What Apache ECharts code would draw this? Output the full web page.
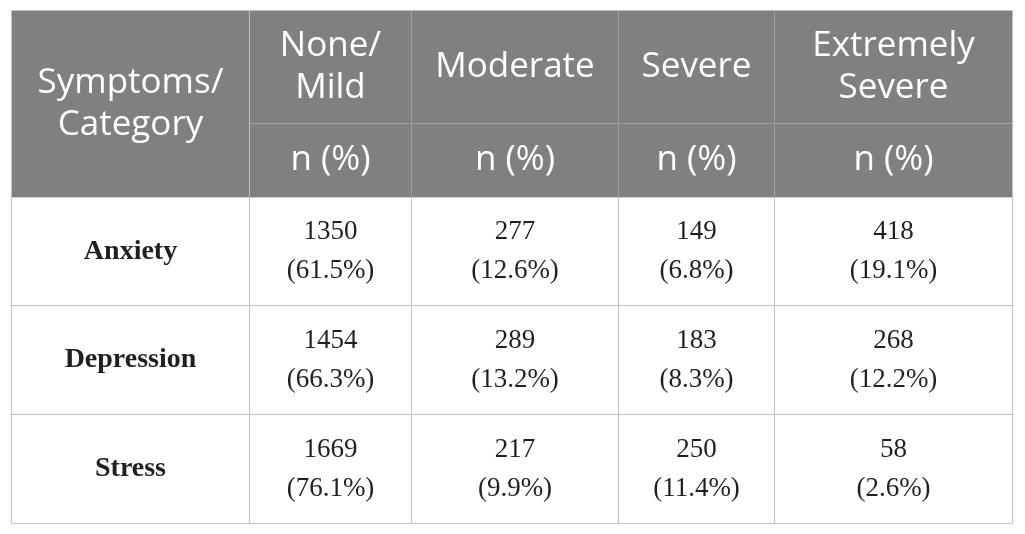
<!DOCTYPE html>
<html>
<head>
<meta charset="utf-8">
<title>Symptoms by category</title>
<script src="https://cdn.jsdelivr.net/npm/echarts@6.0.0/dist/echarts.min.js"></script>
<style>
    html, body { margin: 0; padding: 0; background: #fff; }
    #main { width: 1025px; height: 534px; }
</style>
</head>
<body>
<div id="main"></div>
<script>
// table content
var cornerTitle = 'Symptoms/\nCategory';
var levels = ['None/\nMild', 'Moderate', 'Severe', 'Extremely\nSevere'];
var subHeader = 'n (%)';
var symptoms = ['Anxiety', 'Depression', 'Stress'];
var counts = [
    [1350, 277, 149, 418],
    [1454, 289, 183, 268],
    [1669, 217, 250, 58]
];
var percents = [
    [61.5, 12.6, 6.8, 19.1],
    [66.3, 13.2, 8.3, 12.2],
    [76.1, 9.9, 11.4, 2.6]
];

// layout (px)
var colWidths = [162, 207, 156, 238];
var rowHeights = [108, 109, 109];
// matrix merges equal header names, so the repeated sub header gets a few
// zero-width chars; the narrowest column gets none (they still take measure width)
var dupMarks = [1, 2, 0, 3];

var headGray = '#808080';
var headLine = '#a0a0a0';
var bodyLine = '#bfbfbf';

var xData = [];
for (var i = 0; i < levels.length; i++) {
    xData.push({
        value: levels[i],
        children: [{value: subHeader + new Array(dupMarks[i] + 1).join('\u200b'), size: colWidths[i]}]
    });
}
var yData = [];
for (var j = 0; j < symptoms.length; j++) {
    yData.push({value: symptoms[j], size: rowHeights[j]});
}
var cells = [];
for (var r = 0; r < symptoms.length; r++) {
    for (var c = 0; c < levels.length; c++) {
        cells.push({
            coord: [c, r],
            value: counts[r][c] + '\n(' + percents[r][c].toFixed(1) + '%)'
        });
    }
}

var chart = echarts.init(document.getElementById('main'));
var option = {
    matrix: {
        left: 11,
        top: 10,
        width: 1001,
        height: 513,
        backgroundStyle: {
            color: '#fff',
            borderColor: bodyLine,
            borderWidth: 1
        },
        x: {
            data: xData,
            levels: [{levelSize: 113}, {levelSize: 74}],
            itemStyle: {color: headGray, borderColor: headLine, borderWidth: 1},
            label: {
                color: '#fff',
                fontFamily: 'Open Sans',
                fontSize: 35,
                lineHeight: 42
            },
            dividerLineStyle: {color: '#d0d0d0', width: 1}
        },
        y: {
            data: yData,
            levels: [{levelSize: 238}],
            itemStyle: {color: '#fff', borderColor: bodyLine, borderWidth: 1},
            label: {
                color: '#231f20',
                fontFamily: 'Liberation Serif',
                fontWeight: 'bold',
                fontSize: 28
            },
            dividerLineStyle: {color: bodyLine, width: 1}
        },
        corner: {
            data: [{coord: [-1, [-2, -1]], value: cornerTitle, mergeCells: true}],
            itemStyle: {color: headGray, borderColor: headLine, borderWidth: 1},
            label: {
                color: '#fff',
                fontFamily: 'Open Sans',
                fontSize: 35,
                lineHeight: 42
            }
        },
        body: {
            data: cells,
            itemStyle: {color: '#fff', borderColor: bodyLine, borderWidth: 1},
            label: {
                color: '#231f20',
                fontFamily: 'Liberation Serif',
                fontSize: 27,
                lineHeight: 39
            }
        }
    }
};
chart.setOption(option);
</script>
</body>
</html>
